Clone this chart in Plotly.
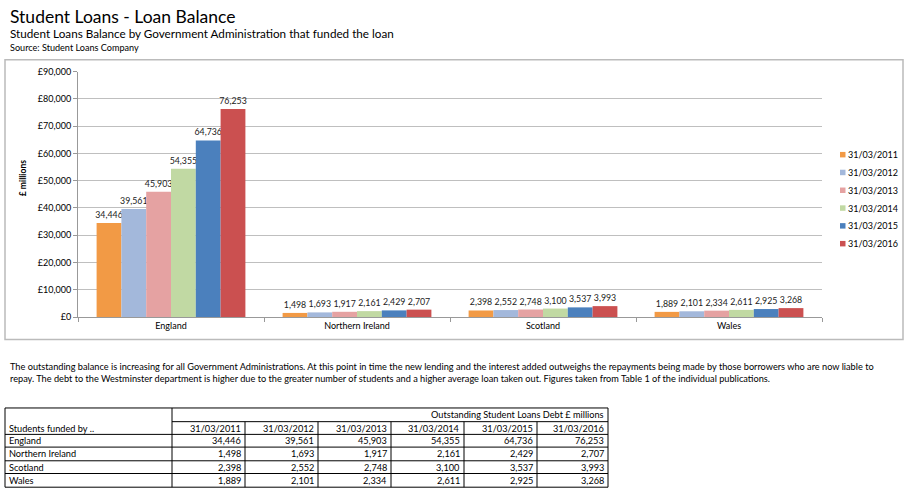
import plotly.graph_objects as go

W, H = 916, 501
FONT = "Lato"

regions = ["England", "Northern Ireland", "Scotland", "Wales"]
dates = ["31/03/2011", "31/03/2012", "31/03/2013", "31/03/2014", "31/03/2015", "31/03/2016"]
bal_2011 = [34446, 1498, 2398, 1889]
bal_2012 = [39561, 1693, 2552, 2101]
bal_2013 = [45903, 1917, 2748, 2334]
bal_2014 = [54355, 2161, 3100, 2611]
bal_2015 = [64736, 2429, 3537, 2925]
bal_2016 = [76253, 2707, 3993, 3268]
series = [bal_2011, bal_2012, bal_2013, bal_2014, bal_2015, bal_2016]
colors = ["#F29A45", "#A3B8DB", "#E5A2A2", "#C1D9A3", "#4B80BD", "#CB5050"]

title = "Student Loans - Loan Balance"
subtitle = "Student Loans Balance by Government Administration that funded the loan"
source = "Source: Student Loans Company"
para = ("The outstanding balance is increasing for all Government Administrations. At this point in time the new lending and the interest added outweighs the repayments being made by those borrowers who are now liable to<br>"
        "repay. The debt to the Westminster department is higher due to the greater number of students and a higher average loan taken out. Figures taken from Table 1 of the individual publications.")
table_title = "Outstanding Student Loans Debt £ millions"
first_col_header = "Students funded by .."


def px(x):
    return x / W


def py(y):
    return 1 - y / H


fig = go.Figure()
for d, vals, c in zip(dates, series, colors):
    fig.add_trace(go.Bar(
        x=regions, y=vals, name=d, marker=dict(color=c, line=dict(width=0)),
        text=[f"{v:,}" for v in vals], textposition="outside", cliponaxis=False,
        constraintext="none",
        textfont=dict(family=FONT, size=8.8, color="#222"),
    ))

shapes = []
annotations = []


def line(x0, y0, x1, y1, color="black", width=1):
    shapes.append(dict(type="line", xref="paper", yref="paper", x0=px(x0), x1=px(x1),
                       y0=py(y0), y1=py(y1), line=dict(color=color, width=width)))


def text(t, x, y, size, xanchor="left", **kw):
    annotations.append(dict(text=t, x=px(x), y=py(y), xref="paper", yref="paper",
                            xanchor=xanchor, yanchor="middle", showarrow=False,
                            font=dict(family=FONT, size=size, color="black"), **kw))


# chart box
shapes.append(dict(type="rect", xref="paper", yref="paper", x0=px(5), x1=px(903), y0=py(341), y1=py(55),
                   line=dict(color="#BBBBBB", width=1.5), layer="below"))

# headings
text(title, 8, 11, 17.5)
text(subtitle, 8, 27.5, 11.7)
text(source, 8, 42.5, 9.1)
text(para, 8, 375, 9.2, align="left")
text("<b>£ millions</b>", 23, 176, 8.5, xanchor="center", textangle=-90)

# legend (small squares + labels)
for i, (d, c) in enumerate(zip(dates, colors)):
    yc = 152 + i * 18.2
    shapes.append(dict(type="rect", xref="paper", yref="paper", x0=px(840), x1=px(845.5),
                       y0=py(yc + 2.8), y1=py(yc - 2.8), fillcolor=c, line=dict(width=0)))
    text(d, 846, yc, 9)

# table
col_x = [5, 172, 245, 318, 391, 464, 537, 608]
row_y = [411, 425, 438, 451, 465, 478, 492]
line(col_x[0], row_y[0], col_x[-1], row_y[0])
line(col_x[1], row_y[1], col_x[-1], row_y[1])
for yy in row_y[2:]:
    line(col_x[0], yy, col_x[-1], yy)
for xx in [col_x[0], col_x[1], col_x[-1]]:
    line(xx, row_y[0], xx, row_y[-1])
for xx in col_x[2:-1]:
    line(xx, row_y[1], xx, row_y[-1])
TF = 9.2
text(table_title, col_x[-1] - 2, (row_y[0] + row_y[1]) / 2, TF, xanchor="right")
text(first_col_header, col_x[0] + 2, (row_y[1] + row_y[2]) / 2, TF)
for j, d in enumerate(dates):
    text(d, col_x[j + 2] - 2, (row_y[1] + row_y[2]) / 2, TF, xanchor="right")
for i, r in enumerate(regions):
    yc = (row_y[i + 2] + row_y[i + 3]) / 2
    text(r, col_x[0] + 2, yc, TF)
    for j, s in enumerate(series):
        text(f"{s[i]:,}", col_x[j + 2] - 2, yc, TF, xanchor="right")

fig.update_layout(
    width=W, height=H, margin=dict(l=0, r=0, t=0, b=0),
    paper_bgcolor="white", plot_bgcolor="white",
    barmode="group", bargap=0.2, bargroupgap=0,
    showlegend=False,
    xaxis=dict(domain=[px(78), px(822)], type="category", showgrid=False,
               ticks="outside", tickson="boundaries", ticklen=4, tickcolor="#999",
               showline=True, linecolor="#999", linewidth=1,
               tickfont=dict(family=FONT, size=9, color="black"), anchor="y"),
    yaxis=dict(domain=[py(318), py(67)], range=[0, 90000], dtick=10000, tickprefix="£",
               tickformat=",", showgrid=True, gridcolor="#BFBFBF", gridwidth=1,
               ticks="outside", ticklen=4, tickcolor="#999", showline=True, linecolor="#999",
               zeroline=False, tickfont=dict(family=FONT, size=9, color="black")),
    shapes=shapes, annotations=annotations,
)

fig.write_html("out.html", config={"displayModeBar": False},
               post_script="document.body.style.margin='0px';")
